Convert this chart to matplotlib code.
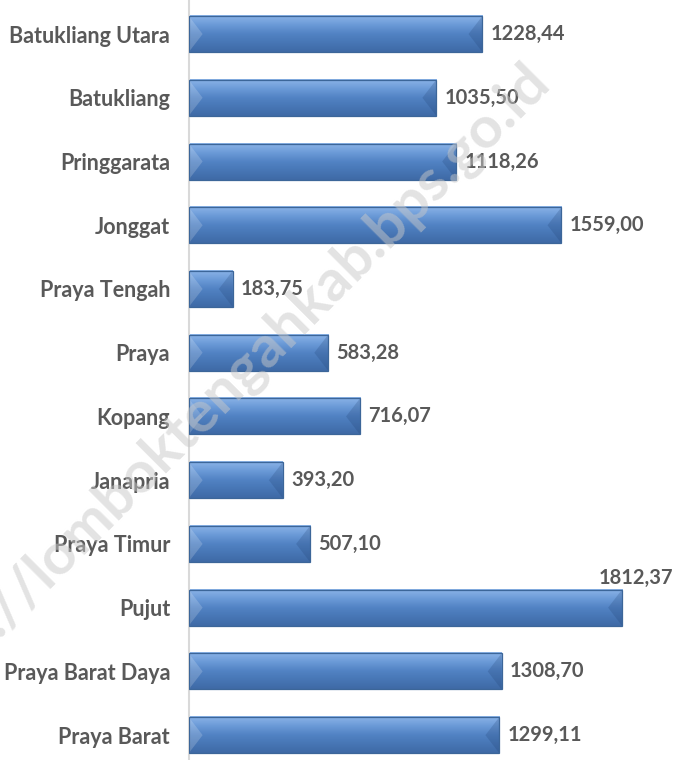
import numpy as np
import matplotlib.pyplot as plt
from matplotlib.colors import LinearSegmentedColormap
from matplotlib.patches import Polygon, Rectangle

kecamatan = ['Batukliang Utara', 'Batukliang', 'Pringgarata', 'Jonggat',
             'Praya Tengah', 'Praya', 'Kopang', 'Janapria', 'Praya Timur',
             'Pujut', 'Praya Barat Daya', 'Praya Barat']
nilai = [1228.44, 1035.50, 1118.26, 1559.00, 183.75, 583.28,
         716.07, 393.20, 507.10, 1812.37, 1308.70, 1299.11]

plt.rcParams['font.family'] = ['Lato', 'DejaVu Sans']

fig = plt.figure(figsize=(6.79, 7.60), dpi=100)
ax = fig.add_axes([0.278, 0.0, 0.722, 1.0])

xmax = 2051
bar_h = 0.565
bevel = 58  # depth of the end bevel in data units (~14 px)

grad = LinearSegmentedColormap.from_list(
    'bevel', ['#8CB4E8', '#6C9BD8', '#5283C4', '#4776B5', '#3F6AA6'])
ramp = np.linspace(0, 1, 64).reshape(-1, 1)

pos = np.arange(len(kecamatan))
for y, v in zip(pos, nilai):
    top, bot = y - bar_h / 2, y + bar_h / 2
    ax.imshow(ramp, cmap=grad, aspect='auto', extent=(0, v, bot, top),
              interpolation='bicubic', zorder=2)
    # left bevel (lighter) and right bevel (darker)
    ax.add_patch(Polygon([(0, top), (bevel, y), (0, bot)], closed=True,
                         facecolor='white', alpha=0.18, lw=0, zorder=3))
    ax.add_patch(Polygon([(v, top), (v - bevel, y), (v, bot)], closed=True,
                         facecolor='#1F3F70', alpha=0.22, lw=0, zorder=3))
    ax.add_patch(Rectangle((0, top), v, bar_h, fill=False,
                           edgecolor='#3C6699', lw=0.9, zorder=4))

    txt = f'{v:.2f}'.replace('.', ',')
    if v > 1700:
        ax.annotate(txt, xy=(v, top), xytext=(37, 1), textcoords='offset points',
                    ha='right', va='bottom', fontsize=14.5, fontweight='bold',
                    color='#595959', zorder=5)
    else:
        ax.annotate(txt, xy=(v, y), xytext=(6, 0), textcoords='offset points',
                    ha='left', va='center', fontsize=14.5, fontweight='bold',
                    color='#595959', zorder=5)

ax.set_xlim(0, xmax)
ax.set_ylim(11.39, -0.534)
ax.set_yticks(pos)
ax.set_yticklabels(kecamatan, fontsize=15.5, fontweight='bold', color='#595959')
ax.tick_params(axis='y', length=0, pad=13.5)
ax.set_xticks([])
for side in ['top', 'right', 'bottom']:
    ax.spines[side].set_visible(False)
ax.spines['left'].set_color('#D9D9D9')
ax.spines['left'].set_linewidth(1.5)
ax.patch.set_alpha(0)

# watermark
fig.text(0.795, 0.905, 'http://lomboktengahkab.bps.go.id', rotation=45,
         rotation_mode='anchor', ha='right', va='center', fontsize=42,
         fontweight='bold', color='#C8C8C8', alpha=0.5, zorder=10)

fig.savefig('out.png', dpi=100)
